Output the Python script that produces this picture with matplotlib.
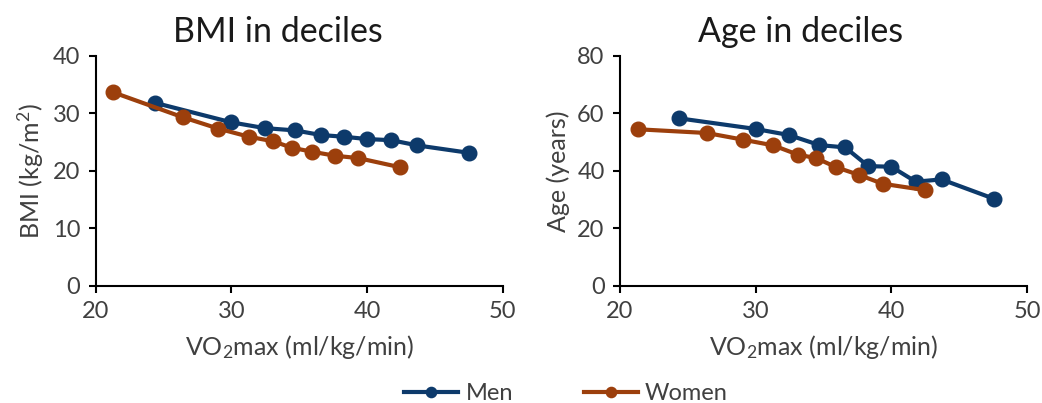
import matplotlib
matplotlib.use("Agg")
import matplotlib.pyplot as plt

plt.rcParams['font.family'] = ['Lato', 'DejaVu Sans']
plt.rcParams['mathtext.fontset'] = 'custom'
plt.rcParams['mathtext.rm'] = 'Lato'
plt.rcParams['mathtext.it'] = 'Lato'

# Data
men_vo2 = [24.35, 30.0, 32.45, 34.7, 36.6, 38.3, 40.0, 41.8, 43.7, 47.55]
women_vo2 = [21.3, 26.4, 29.05, 31.3, 33.1, 34.45, 35.95, 37.65, 39.35, 42.45]
men_bmi = [31.8, 28.4, 27.4, 27.0, 26.2, 25.9, 25.5, 25.3, 24.4, 23.1]
women_bmi = [33.6, 29.3, 27.3, 25.9, 25.1, 24.0, 23.3, 22.6, 22.2, 20.6]
men_age = [58.2, 54.5, 52.4, 48.9, 48.1, 41.6, 41.4, 36.2, 37.0, 30.3]
women_age = [54.4, 53.1, 50.8, 48.8, 45.6, 44.4, 41.2, 38.5, 35.5, 33.3]
x_ticks = [20, 30, 40, 50]
bmi_ticks = [0, 10, 20, 30, 40]
age_ticks = [0, 20, 40, 60, 80]

MEN_C = '#0d3a6b'
WOMEN_C = '#9c3f0c'
TICK_C = '#404040'

W, H = 1042, 403
fig = plt.figure(figsize=(W / 100, H / 100), dpi=100)

def px_ax(x0, x1, ytop, ybot):
    return fig.add_axes([x0 / W, 1 - ybot / H, (x1 - x0) / W, (ybot - ytop) / H])

ax1 = px_ax(95.7, 502.7, 55.5, 286)
ax2 = px_ax(620, 1027, 55.5, 286)

def style(ax, yt, ylabel):
    ax.set_xlim(20, 50)
    ax.set_ylim(yt[0], yt[-1])
    ax.set_xticks(x_ticks)
    ax.set_yticks(yt)
    for s in ['top', 'right']:
        ax.spines[s].set_visible(False)
    for s in ['left', 'bottom']:
        ax.spines[s].set_linewidth(1.5)
        ax.spines[s].set_color('black')
    ax.tick_params(axis='both', direction='out', length=5, width=1.5,
                   labelsize=17, labelcolor=TICK_C, pad=6)
    ax.set_xlabel('VO$_{2}$max (ml/kg/min)', fontsize=18, color=TICK_C, labelpad=8)
    ax.set_ylabel(ylabel, fontsize=18, color=TICK_C, labelpad=5)

lw = 3.0
ms = 10.5
l1, = ax1.plot(men_vo2, men_bmi, '-o', color=MEN_C, lw=lw, ms=ms, label='Men')
l2, = ax1.plot(women_vo2, women_bmi, '-o', color=WOMEN_C, lw=lw, ms=ms, label='Women')
ax2.plot(men_vo2, men_age, '-o', color=MEN_C, lw=lw, ms=ms)
ax2.plot(women_vo2, women_age, '-o', color=WOMEN_C, lw=lw, ms=ms)

style(ax1, bmi_ticks, 'BMI (kg/m$^{2}$)')
style(ax2, age_ticks, 'Age (years)')

fig.text(278 / W, 1 - 32 / H, 'BMI in deciles', ha='center', va='center', fontsize=24.5, color='#1a1a1a')
fig.text(801 / W, 1 - 32 / H, 'Age in deciles', ha='center', va='center', fontsize=24.5, color='#1a1a1a')

leg = fig.legend([l1, l2], ['Men', 'Women'], loc='center', ncol=2,
                 bbox_to_anchor=(566 / W, 1 - 394 / H), frameon=False,
                 fontsize=17, handlelength=2.3, columnspacing=3.0,
                 handletextpad=0.3, markerscale=0.7)
for t in leg.get_texts():
    t.set_color(TICK_C)

fig.savefig('out.png', dpi=100)
